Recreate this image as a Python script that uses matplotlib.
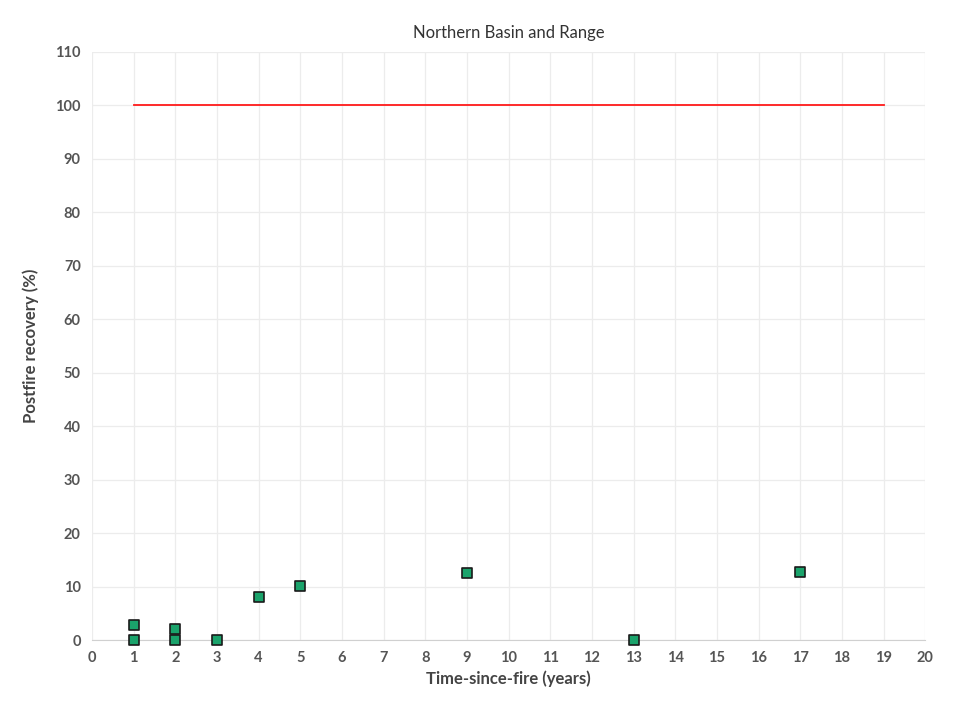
import numpy as np
import matplotlib.pyplot as plt

plt.rcParams['font.family'] = ['Lato', 'DejaVu Sans']

# observed recovery points
years = [1, 1, 2, 2, 3, 4, 5, 9, 13, 17]
recovery = [2.8, 0, 2.0, 0, 0, 8.0, 10.1, 12.5, 0, 12.7]

# reference (pre-fire) level
ref_years = [1, 19]
ref_level = [100, 100]

fig = plt.figure(figsize=(9.78, 7.01), dpi=100)
ax = fig.add_axes([0.094, 0.087, 0.852, 0.839])

ax.plot(ref_years, ref_level, color='#ff1a1a', lw=1.3, zorder=2)
ax.scatter(years, recovery, marker='s', s=55, facecolor='#1aa36b',
           edgecolor='#1a1a1a', linewidth=1.2, zorder=3, clip_on=False)

ax.set_xlim(0, 20)
ax.set_ylim(0, 110)
ax.set_xticks(np.arange(0, 21, 1))
ax.set_yticks(np.arange(0, 111, 10))
ax.grid(True, color='#ececec', lw=0.9)
ax.set_axisbelow(True)
for s in ['top', 'right', 'left']:
    ax.spines[s].set_visible(False)
ax.spines['bottom'].set_color('#d0d0d0')
ax.tick_params(length=0, labelsize=10.5, labelcolor='#555555', pad=8)
for lab in ax.get_xticklabels() + ax.get_yticklabels():
    lab.set_fontweight('bold')

ax.set_title('Northern Basin and Range', fontsize=12, color='#333333', pad=10)
ax.set_xlabel('Time-since-fire (years)', fontsize=12, fontweight='bold', color='#444444', labelpad=4)
ax.set_ylabel('Postfire recovery (%)', fontsize=12, fontweight='bold', color='#444444', labelpad=12)

fig.savefig('out.png', dpi=100)
